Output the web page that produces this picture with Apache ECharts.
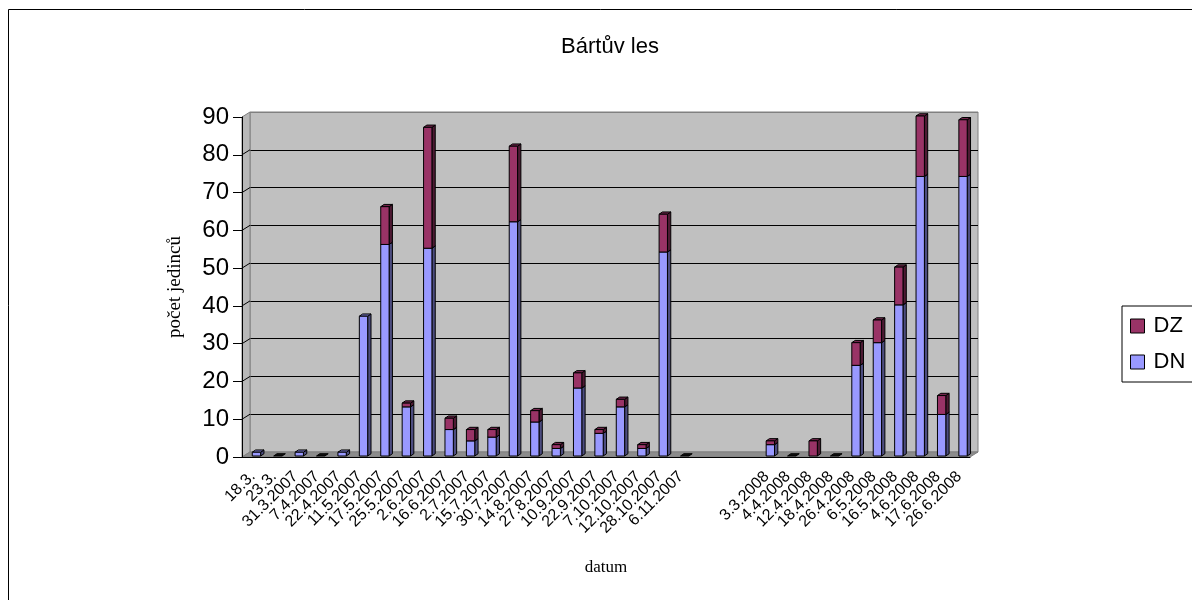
<!DOCTYPE html>
<html>
<head>
<meta charset="utf-8">
<title>Bártův les</title>
<script src="https://cdn.jsdelivr.net/npm/echarts@6/dist/echarts.min.js"></script>
<style>
  html, body { margin: 0; padding: 0; background: #fff; }
  #chart { width: 1192px; height: 600px; }
</style>
</head>
<body>
<div id="chart"></div>
<script>
// Sampling dates (three empty slots separate the 2007 and 2008 seasons)
const categories = [
  '18.3.', '23.3.', '31.3.2007', '7.4.2007', '22.4.2007', '11.5.2007', '17.5.2007',
  '25.5.2007', '2.6.2007', '16.6.2007', '2.7.2007', '15.7.2007', '30.7.2007',
  '14.8.2007', '27.8.2007', '10.9.2007', '22.9.2007', '7.10.2007', '12.10.2007',
  '28.10.2007', '6.11.2007', '', '', '',
  '3.3.2008', '4.4.2008', '12.4.2008', '18.4.2008', '26.4.2008', '6.5.2008',
  '16.5.2008', '4.6.2008', '17.6.2008', '26.6.2008'
];

// Counts of individuals per date
const dnValues = [
  1, 0, 1, 0, 1, 37, 56, 13, 55, 7, 4, 5, 62, 9, 2, 18, 6, 13, 2, 54, 0,
  null, null, null,
  3, 0, 0, 0, 24, 30, 40, 74, 11, 74
];
const dzValues = [
  0, 0, 0, 0, 0, 0, 10, 1, 32, 3, 3, 2, 20, 3, 1, 4, 1, 2, 1, 10, 0,
  null, null, null,
  1, 0, 4, 0, 6, 6, 10, 16, 5, 15
];

const seriesNames = ['DN', 'DZ'];
const legendOrder = ['DZ', 'DN'];
const yMin = 0, yMax = 90, yStep = 10;

// Frame of the pseudo-3D plot: front plane plus a receding back wall
const FRONT = { left: 242, top: 117, width: 728, height: 340 };
const DEPTH = { dx: 8, dy: 5 };
const SANS = 'Liberation Sans, Arial, sans-serif';
const SERIF = 'Liberation Serif, Times New Roman, serif';

const faces = {
  DN: { front: '#9999ff', side: '#4d4d80', top: '#7777c4' },
  DZ: { front: '#993366', side: '#4d1a33', top: '#73264d' }
};

// Stacked rows: [index, bottom, top, total]
const dnRows = [], dzRows = [];
categories.forEach((c, i) => {
  if (dnValues[i] == null) return;
  const dn = dnValues[i], dz = dzValues[i];
  dnRows.push([i, 0, dn, dn + dz]);
  dzRows.push([i, dn, dn + dz, dn + dz]);
});

function boxRenderer(name, isBase) {
  const col = faces[name];
  return function (params, api) {
    const i = api.value(0), lo = api.value(1), hi = api.value(2), total = api.value(3);
    const band = api.size([1, 0])[0];
    const b = api.coord([i, lo]);
    const t = api.coord([i, hi]);
    const x0 = b[0] - band * 0.02;
    const w = band * 0.39;
    const dx = band * 0.155, dy = dx * 0.68;
    const yb = b[1] - 1, yt = t[1] - 1;
    const line = { stroke: '#000', lineWidth: 1 };
    if (hi === lo) {
      if (!isBase || total !== 0) return null;
      return {
        type: 'polygon',
        shape: { points: [[x0, yb], [x0 + dx, yb - dy], [x0 + w + dx, yb - dy], [x0 + w, yb]] },
        style: Object.assign({ fill: '#111' }, line)
      };
    }
    return {
      type: 'group',
      children: [
        { type: 'polygon',
          shape: { points: [[x0 + w, yt], [x0 + w + dx, yt - dy], [x0 + w + dx, yb - dy], [x0 + w, yb]] },
          style: Object.assign({ fill: col.side }, line) },
        { type: 'polygon',
          shape: { points: [[x0, yt], [x0 + dx, yt - dy], [x0 + w + dx, yt - dy], [x0 + w, yt]] },
          style: Object.assign({ fill: col.top }, line) },
        { type: 'rect',
          shape: { x: x0, y: yt, width: w, height: yb - yt },
          style: Object.assign({ fill: col.front }, line) }
      ]
    };
  };
}

const splitColors = [];
for (let v = yMin; v <= yMax; v += yStep) {
  splitColors.push(v === yMin || v === yMax ? '#808080' : '#000');
}

const chart = echarts.init(document.getElementById('chart'), null, { renderer: 'canvas' });

const option = {
  animation: false,
  backgroundColor: '#fff',
  title: {
    text: 'Bártův les',
    left: 605,
    top: 31,
    textAlign: 'center',
    textStyle: { fontFamily: SANS, fontSize: 22, fontWeight: 'normal', color: '#000' }
  },
  legend: {
    data: legendOrder,
    orient: 'vertical',
    left: 1122,
    top: 306,
    padding: [9, 12, 9, 8],
    itemGap: 14,
    itemWidth: 14,
    itemHeight: 14,
    icon: 'rect',
    itemStyle: { borderColor: '#000', borderWidth: 1 },
    borderColor: '#000',
    borderWidth: 1,
    textStyle: { fontFamily: SANS, fontSize: 22, color: '#000', padding: [0, 0, 0, 4] }
  },
  grid: [
    { left: FRONT.left, top: FRONT.top, width: FRONT.width, height: FRONT.height, show: false },
    {
      left: FRONT.left + DEPTH.dx, top: FRONT.top - DEPTH.dy,
      width: FRONT.width, height: FRONT.height,
      show: true, backgroundColor: '#c0c0c0', borderColor: '#808080', borderWidth: 1
    }
  ],
  xAxis: [
    {
      type: 'category',
      gridIndex: 0,
      data: categories,
      name: 'datum',
      nameLocation: 'middle',
      nameGap: 102,
      nameTextStyle: { fontFamily: SERIF, fontSize: 17, color: '#000' },
      axisLine: { lineStyle: { color: '#000', width: 1 } },
      axisTick: { length: 6, interval: 0, lineStyle: { color: '#000' } },
      axisLabel: {
        interval: 0, rotate: 45, margin: 17,
        fontFamily: SANS, fontSize: 16, color: '#000'
      },
      splitLine: { show: false },
      z: 3
    },
    { type: 'value', gridIndex: 1, show: false, min: 0, max: 1 }
  ],
  yAxis: [
    {
      type: 'value',
      gridIndex: 0,
      min: yMin, max: yMax, interval: yStep,
      name: 'počet jedinců',
      nameLocation: 'middle',
      nameGap: 57,
      nameTextStyle: { fontFamily: SERIF, fontSize: 19, color: '#000' },
      axisLine: { show: true, lineStyle: { color: '#000', width: 1 } },
      axisTick: { show: true, length: 9, lineStyle: { color: '#000' } },
      axisLabel: { margin: 13, fontFamily: SANS, fontSize: 24, color: '#000' },
      splitLine: { show: false },
      z: 3
    },
    {
      type: 'value',
      gridIndex: 1,
      min: yMin, max: yMax, interval: yStep,
      axisLine: { show: false },
      axisTick: { show: false },
      axisLabel: { show: false },
      splitLine: { show: true, lineStyle: { color: splitColors, width: 1 } }
    }
  ],
  series: seriesNames.map((name, k) => ({
    name: name,
    type: 'custom',
    xAxisIndex: 0,
    yAxisIndex: 0,
    z: 5,
    itemStyle: { color: faces[name].front },
    encode: { x: 0, y: [1, 2] },
    data: k === 0 ? dnRows : dzRows,
    renderItem: boxRenderer(name, k === 0)
  }))
};

chart.setOption(option);

// Side wall, floor and the outer frame, placed from the value axis scale
function wallGraphics() {
  const L = FRONT.left, R = FRONT.left + FRONT.width;
  const dx = DEPTH.dx, dy = DEPTH.dy;
  const yAt = v => chart.convertToPixel({ yAxisIndex: 0 }, v);
  const y0 = yAt(yMin), yTop = yAt(yMax);
  const els = [
    { type: 'polygon', z: 1,
      shape: { points: [[L, y0], [L + dx, y0 - dy], [L + dx, yTop - dy], [L, yTop]] },
      style: { fill: '#b8b8b8', stroke: '#808080', lineWidth: 1 } },
    { type: 'polygon', z: 1,
      shape: { points: [[L, y0], [L + dx, y0 - dy], [R + dx, y0 - dy], [R, y0]] },
      style: { fill: '#8c8c8c', stroke: '#808080', lineWidth: 1 } },
    { type: 'rect', z: 0,
      shape: { x: 8.5, y: 9.5, width: 1300, height: 700 },
      style: { fill: null, stroke: '#000', lineWidth: 1 } }
  ];
  for (let v = yMin + yStep; v < yMax; v += yStep) {
    const y = yAt(v);
    els.push({ type: 'line', z: 2,
      shape: { x1: L, y1: y, x2: L + dx, y2: y - dy },
      style: { stroke: '#000', lineWidth: 1 } });
  }
  return els;
}

chart.setOption({ graphic: { elements: wallGraphics() } });
</script>
</body>
</html>
